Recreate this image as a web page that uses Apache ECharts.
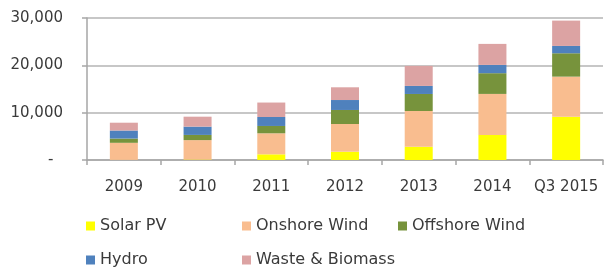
<!DOCTYPE html>
<html>
<head>
<meta charset="utf-8">
<script src="https://cdn.jsdelivr.net/npm/echarts@6/dist/echarts.min.js"></script>
<style>
  html, body { margin: 0; padding: 0; background: #fff; }
  #chart { width: 605px; height: 268px; }
</style>
</head>
<body>
<div id="chart"></div>
<script>
const years = ['2009', '2010', '2011', '2012', '2013', '2014', 'Q3 2015']

// installed capacity, MW
const solarPV = [30, 100, 1200, 1750, 2800, 5300, 9150]
const onshoreWind = [3600, 4100, 4440, 5860, 7550, 8660, 8460]
const offshoreWind = [900, 1100, 1550, 2960, 3600, 4380, 4940]
const hydro = [1700, 1750, 1900, 2100, 1700, 1750, 1550]
const wasteBiomass = [1650, 2100, 3050, 2690, 4230, 4440, 5350]

const yTicks = [0, 10000, 20000, 30000]

const SERIES = [
  { name: 'Solar PV', data: solarPV, color: '#ffff00' },
  { name: 'Onshore Wind', data: onshoreWind, color: '#f9bd8f' },
  { name: 'Offshore Wind', data: offshoreWind, color: '#77933c' },
  { name: 'Hydro', data: hydro, color: '#4f81bd' },
  { name: 'Waste & Biomass', data: wasteBiomass, color: '#dca3a3' },
]

const FONT = 'DejaVu Sans'
const TEXT = '#3a3a3a'

// one vertical legend per column, like the Excel legend grid
function legendCol(names, left) {
  return {
    orient: 'vertical',
    left,
    top: 218,
    padding: 0,
    itemWidth: 9,
    itemHeight: 9,
    itemGap: 18,
    icon: 'rect',
    textStyle: { fontFamily: FONT, fontSize: 16, color: TEXT, lineHeight: 16 },
    data: names,
  }
}

const chart = echarts.init(document.getElementById('chart'))
chart.setOption({
  animation: false,
  grid: { left: 87, right: 2, top: 18, bottom: 108 },
  legend: [
    legendCol(['Solar PV', 'Hydro'], 86),
    legendCol(['Onshore Wind', 'Waste & Biomass'], 242),
    legendCol(['Offshore Wind'], 398),
  ],
  xAxis: {
    type: 'category',
    data: years,
    axisLine: { lineStyle: { color: '#a6a6a6', width: 1.5 } },
    axisTick: { show: true, length: 5, lineStyle: { color: '#a6a6a6', width: 1.5 } },
    axisLabel: { fontFamily: FONT, fontSize: 15, color: TEXT, margin: 20, interval: 0, hideOverlap: false },
  },
  yAxis: {
    type: 'value',
    min: yTicks[0],
    max: yTicks[yTicks.length - 1],
    interval: yTicks[1] - yTicks[0],
    axisLine: { show: true, lineStyle: { color: '#a6a6a6', width: 1.5 } },
    axisTick: { show: true, length: 5, lineStyle: { color: '#a6a6a6', width: 1.5 } },
    splitLine: { lineStyle: { color: '#b4b4b4', width: 1.5 } },
    axisLabel: {
      fontFamily: FONT,
      fontSize: 15,
      color: TEXT,
      margin: 24,
      formatter: (v) => (v === 0 ? '-  ' : v.toLocaleString('en-US')),
    },
  },
  series: SERIES.map((s) => ({
    name: s.name,
    type: 'bar',
    stack: 'total',
    barWidth: '38%',
    itemStyle: { color: s.color },
    data: s.data,
  })),
})
</script>
</body>
</html>
